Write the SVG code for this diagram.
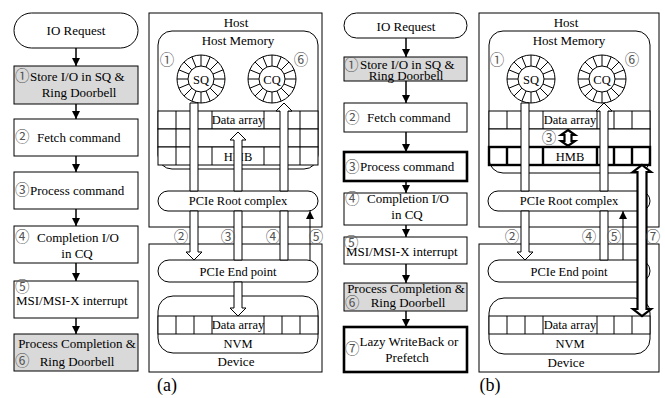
<svg xmlns="http://www.w3.org/2000/svg" width="665" height="398" viewBox="0 0 665 398">
<defs>
<style>
text{font-family:"Liberation Serif","Noto Sans CJK JP",serif;font-size:13px;fill:#000}
.c{text-anchor:middle}
.p{font-size:12.5px}
.n{fill:#555;font-size:14.5px}
.lb{font-size:18px}
.box{fill:#fff;stroke:#000;stroke-width:1}
.grey{fill:#d9d9d9;stroke:#000;stroke-width:1}
.thick{fill:#fff;stroke:#000;stroke-width:2.6}
.ln{fill:none;stroke:#000;stroke-width:1}
.tl{fill:none;stroke:#000;stroke-width:2.4}
.fl{fill:none;stroke:#000;stroke-width:1.5}
.sh{fill:#fff;stroke:#000;stroke-width:1}
.bk{fill:#fff;stroke:#000;stroke-width:2.2}
</style>
<marker id="ah" viewBox="0 0 8 8" refX="8" refY="4" markerWidth="8" markerHeight="8" markerUnits="userSpaceOnUse" orient="auto"><path d="M0 0L8 4L0 8Z" fill="#000"/></marker>
<g id="ring">
<circle r="24" fill="#fff" stroke="#000"/>
<circle r="13" fill="#fff" stroke="#000"/>
<path fill="none" stroke="#000" d="M13 0H24M-13 0H-24M0 13V24M0-13V-24M12.01 4.97L22.17 9.18M-12.01 4.97L-22.17 9.18M12.01-4.97L22.17-9.18M-12.01-4.97L-22.17-9.18M9.19 9.19L16.97 16.97M-9.19 9.19L-16.97 16.97M9.19-9.19L16.97-16.97M-9.19-9.19L-16.97-16.97M4.97 12.01L9.18 22.17M-4.97 12.01L-9.18 22.17M4.97-12.01L9.18-22.17M-4.97-12.01L-9.18-22.17"/>
</g>
</defs>
<rect width="665" height="398" fill="#fff"/>

<!-- ===== (a) flow ===== -->
<g id="a-io"><rect x="14" y="13" width="124" height="35" rx="17.5" class="box"/><text x="76" y="35" class="c">IO Request</text></g>
<g id="a-step1"><rect x="14" y="66" width="124" height="38" class="grey"/><text x="15" y="81" class="n">①</text><text x="30" y="81">Store I/O in SQ &amp;</text><text x="79" y="97" class="c">Ring Doorbell</text></g>
<g id="a-step2"><rect x="14" y="119" width="124" height="37" class="box"/><text x="15" y="142" class="n">②</text><text x="37" y="142">Fetch command</text></g>
<g id="a-step3"><rect x="14" y="172" width="124" height="37" class="box"/><text x="15" y="195" class="n">③</text><text x="30" y="195">Process command</text></g>
<g id="a-step4"><rect x="14" y="226" width="124" height="37" class="box"/><text x="15" y="242" class="n">④</text><text x="37" y="242">Completion I/O</text><text x="77" y="258" class="c">in CQ</text></g>
<g id="a-step5"><rect x="14" y="281" width="124" height="37" class="box"/><text x="15" y="292" class="n">⑤</text><text x="16" y="305">MSI/MSI-X interrupt</text></g>
<g id="a-step6"><rect x="14" y="334" width="124" height="37" class="grey"/><text x="77" y="348" class="c">Process Completion &amp;</text><text x="15" y="366" class="n">⑥</text><text x="77" y="366" class="c">Ring Doorbell</text></g>

<!-- ===== (a) host / device ===== -->
<g id="a-host"><rect x="149" y="13" width="173" height="214" class="box"/><text x="236" y="27" class="c">Host</text></g>
<g id="a-device"><rect x="149" y="244" width="173" height="128" class="box"/><text x="236" y="366" class="c">Device</text></g>
<g id="a-hostmem">
<rect x="158" y="31" width="160" height="138" rx="14" class="box"/>
<text x="238" y="45" class="c">Host Memory</text>
<text x="167" y="65" class="c n">①</text><text x="301" y="65" class="c n">⑥</text>
<use href="#ring" x="201" y="79"/><use href="#ring" x="272" y="79"/>
<text x="201" y="83.5" class="c p">SQ</text><text x="272" y="83.5" class="c p">CQ</text>
<rect x="158" y="111" width="160" height="18" class="box"/>
<path class="ln" d="M176 111V129M194 111V129M212 111V129M264 111V129M282 111V129M300 111V129"/>
<rect x="158" y="129" width="160" height="18" class="box"/>
<path class="ln" d="M176 129V147M300 129V147"/>
<rect x="158" y="147" width="160" height="18" class="box"/>
<path class="ln" d="M176 147V165M194 147V165M212 147V165M264 147V165M282 147V165M300 147V165"/>
<text x="238" y="124" class="c p">Data array</text>
<text x="238" y="160.5" class="c p">HMB</text>
</g>
<g id="a-nvm">
<rect x="158" y="296" width="160" height="57" rx="15" class="box"/>
<rect x="158" y="316" width="160" height="18" class="box"/>
<path class="ln" d="M176 316V334M194 316V334M212 316V334M264 316V334M282 316V334M300 316V334"/>
<text x="238" y="329" class="c p">Data array</text>
<text x="238" y="347.5" class="c p">NVM</text>
</g>
<g id="a-rootcomplex"><rect x="158" y="191" width="160" height="20" rx="10" class="box"/><text x="238" y="205" class="c p">PCIe Root complex</text></g>
<g id="a-endpoint"><rect x="158" y="260" width="160" height="22" rx="11" class="box"/><text x="238" y="276" class="c p">PCIe End point</text></g>

<!-- ===== (b) flow ===== -->
<g id="b-io"><rect x="344" y="13" width="123" height="25" rx="12.5" class="box"/><text x="406" y="30.5" class="c">IO Request</text></g>
<g id="b-step1"><rect x="344" y="57" width="123" height="24" class="grey"/><text x="344" y="70" class="n">①</text><text x="360" y="69">Store I/O in SQ &amp;</text><text x="406" y="80" class="c">Ring Doorbell</text></g>
<g id="b-step2"><rect x="344" y="103" width="123" height="29" class="box"/><text x="345" y="122.5" class="n">②</text><text x="367" y="122">Fetch command</text></g>
<g id="b-step3"><rect x="344" y="152" width="123" height="29" class="thick"/><text x="345" y="171.5" class="n">③</text><text x="360" y="171">Process command</text></g>
<g id="b-step4"><rect x="344" y="193" width="123" height="32" class="box"/><text x="345" y="204" class="n">④</text><text x="367" y="203">Completion I/O</text><text x="407" y="219" class="c">in CQ</text></g>
<g id="b-step5"><rect x="344" y="237" width="123" height="27" class="box"/><text x="344" y="248" class="n">⑤</text><text x="346" y="256">MSI/MSI-X interrupt</text></g>
<g id="b-step6"><rect x="344" y="283" width="123" height="28" class="grey"/><text x="406" y="293" class="c">Process Completion &amp;</text><text x="345" y="308" class="n">⑥</text><text x="408" y="307" class="c">Ring Doorbell</text></g>
<g id="b-step7"><rect x="344" y="327" width="123" height="45" class="thick"/><text x="345" y="354" class="n">⑦</text><text x="409" y="346" class="c">Lazy WriteBack or</text><text x="407" y="362" class="c">Prefetch</text></g>

<!-- ===== (b) host / device ===== -->
<g id="b-host"><rect x="479" y="13" width="180" height="214" class="box"/><text x="566" y="27" class="c">Host</text></g>
<g id="b-device"><rect x="479" y="244" width="180" height="128" class="box"/><text x="566" y="367" class="c">Device</text></g>
<g id="b-hostmem">
<rect x="489" y="31" width="161" height="142" rx="14" class="box"/>
<text x="569" y="45" class="c">Host Memory</text>
<text x="497" y="65" class="c n">①</text><text x="632" y="65" class="c n">⑥</text>
<use href="#ring" x="531" y="79"/><use href="#ring" x="602" y="79"/>
<text x="531" y="83.5" class="c p">SQ</text><text x="602" y="83.5" class="c p">CQ</text>
<rect x="489" y="111" width="161" height="18" class="box"/>
<path class="ln" d="M507 111V129M525 111V129M543 111V129M597 111V129M614 111V129M632 111V129"/>
<rect x="489" y="129" width="161" height="18" class="box"/>
<rect x="489" y="147" width="161" height="18" fill="#fff" class="tl"/>
<path class="tl" d="M507 147V165M525 147V165M543 147V165M597 147V165M614 147V165M632 147V165"/>
<text x="570" y="124" class="c p">Data array</text>
<text x="570" y="160.5" class="c p">HMB</text>
<text x="549" y="143" class="c n">③</text>
</g>
<g id="b-nvm">
<rect x="489" y="298" width="161" height="56" rx="15" class="box"/>
<rect x="489" y="316" width="161" height="18" class="box"/>
<path class="ln" d="M507 316V334M525 316V334M543 316V334M597 316V334M614 316V334M632 316V334"/>
<text x="570" y="329" class="c p">Data array</text>
<text x="570" y="348" class="c p">NVM</text>
</g>
<g id="b-rootcomplex"><rect x="488" y="191" width="162" height="20" rx="10" class="box"/><text x="569" y="205" class="c p">PCIe Root complex</text></g>
<g id="b-endpoint"><rect x="488" y="260" width="162" height="22" rx="11" class="box"/><text x="569" y="276" class="c p">PCIe End point</text></g>

<!-- ===== connectors ===== -->
<g id="connectors">
<g id="a-flow-arrows">
<line x1="76" y1="48" x2="76" y2="66" class="fl" marker-end="url(#ah)"/>
<line x1="76" y1="104" x2="76" y2="119" class="fl" marker-end="url(#ah)"/>
<line x1="76" y1="156" x2="76" y2="172" class="fl" marker-end="url(#ah)"/>
<line x1="76" y1="209" x2="76" y2="226" class="fl" marker-end="url(#ah)"/>
<line x1="76" y1="263" x2="76" y2="281" class="fl" marker-end="url(#ah)"/>
<line x1="76" y1="318" x2="76" y2="334" class="fl" marker-end="url(#ah)"/>
</g>
<g id="b-flow-arrows">
<line x1="406" y1="38" x2="406" y2="57" class="fl" marker-end="url(#ah)"/>
<line x1="406" y1="81" x2="406" y2="103" class="fl" marker-end="url(#ah)"/>
<line x1="406" y1="132" x2="406" y2="152" class="fl" marker-end="url(#ah)"/>
<line x1="406" y1="181" x2="406" y2="193" class="fl" marker-end="url(#ah)"/>
<line x1="406" y1="225" x2="406" y2="237" class="fl" marker-end="url(#ah)"/>
<line x1="406" y1="264" x2="406" y2="283" class="fl" marker-end="url(#ah)"/>
<line x1="406" y1="311" x2="406" y2="327" class="fl" marker-end="url(#ah)"/>
</g>
<g id="a-bus-arrows">
<path class="sh" d="M190 103H198V191H190Z"/>
<path class="sh" d="M190 211H198V252H202L194 260L186 252H190Z"/>
<path class="sh" d="M238 132L246 140H242V191H234V140H230Z"/>
<path class="sh" d="M234 211H242V260H234Z"/>
<path class="sh" d="M234 282H242V308H246L238 316L230 308H234Z"/>
<path class="sh" d="M284 103L292 111H288V191H280V111H276Z"/>
<path class="sh" d="M280 211H288V260H280Z"/>
<line x1="310" y1="260" x2="310" y2="211" class="ln" marker-end="url(#ah)"/>
</g>
<g id="b-bus-arrows">
<path class="sh" d="M521 103H529V191H521Z"/>
<path class="sh" d="M521 211H529V252H533L525 260L517 252H521Z"/>
<path class="sh" d="M604 103L612 111H608V191H600V111H596Z"/>
<path class="sh" d="M600 211H608V260H600Z"/>
<line x1="623" y1="260" x2="623" y2="211" class="ln" marker-end="url(#ah)"/>
<path class="bk" d="M568 130L575 135H571.5V141H575L568 146L561 141H564.5V135H561Z"/>
<path class="bk" d="M642 165L651 172H646.5V309H651L642 316L633 309H637.5V172H633Z"/>
</g>
</g>

<!-- ===== bus step labels ===== -->
<g id="labels">
<text x="181" y="242" class="c n">②</text>
<text x="228" y="242" class="c n">③</text>
<text x="273" y="242" class="c n">④</text>
<text x="316" y="242" class="c n">⑤</text>
<text x="512" y="242" class="c n">②</text>
<text x="589" y="242" class="c n">④</text>
<text x="614" y="242" class="c n">⑤</text>
<text x="653" y="242" class="c n">⑦</text>
<text x="167" y="391" class="c lb">(a)</text>
<text x="490" y="391" class="c lb">(b)</text>
</g>
</svg>
